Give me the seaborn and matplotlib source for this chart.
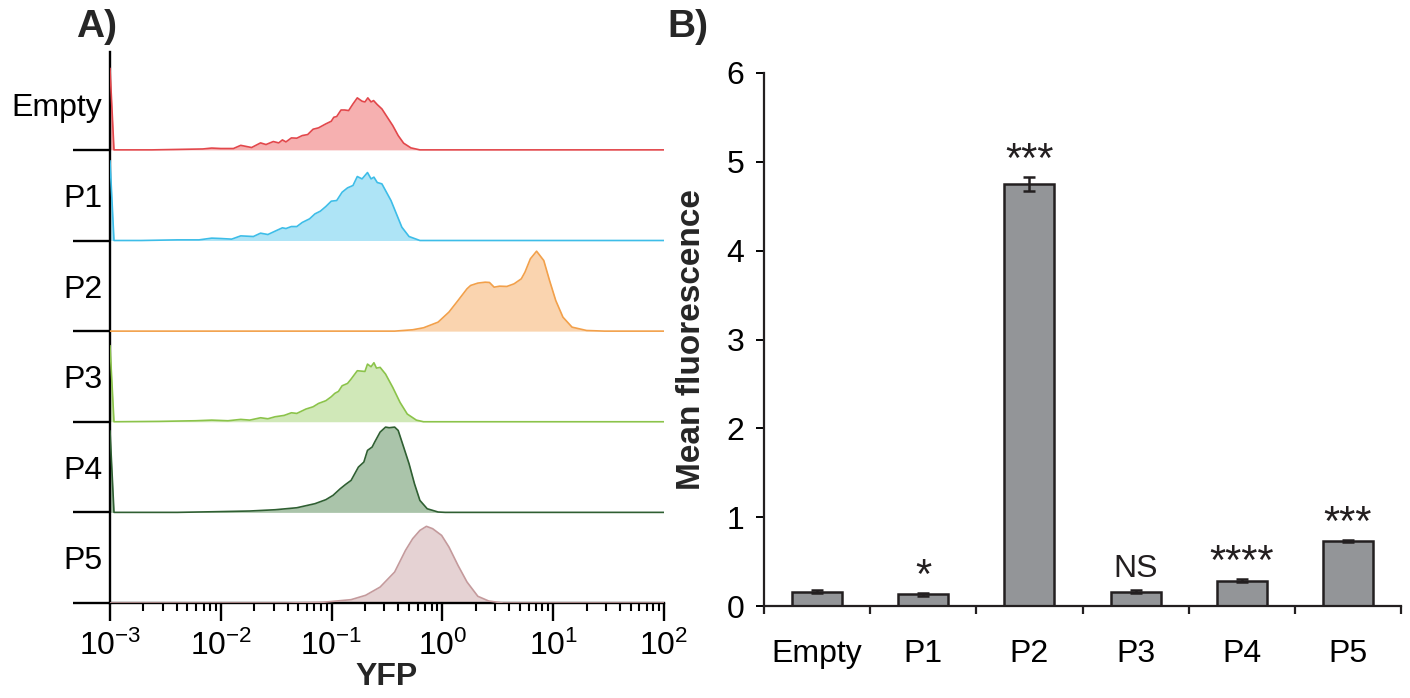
import numpy as np
import matplotlib
matplotlib.use("Agg")
import matplotlib.pyplot as plt
import matplotlib.transforms as mtrans
import seaborn as sns

# ---------------- Panel A: flow-cytometry histograms ----------------
samples = ["Empty", "P1", "P2", "P3", "P4", "P5"]

empty_log_yfp = [-3.0, -2.964, -2.784, -2.621, -2.392, -2.163, -2.082, -2.0, -1.886, -1.820,
                 -1.722, -1.641, -1.592, -1.526, -1.477, -1.444, -1.412, -1.363, -1.314, -1.265,
                 -1.216, -1.167, -1.118, -1.052, -1.003, -0.980, -0.954, -0.915, -0.882, -0.846,
                 -0.807, -0.768, -0.725, -0.699, -0.673, -0.644, -0.621, -0.588, -0.546, -0.497,
                 -0.448, -0.399, -0.350, -0.284, -0.203, 2.0]
empty_count = [90, 0, 0, 0, 0.5, 1, 2, 1.5, 1.5, 5,
               2.6, 7.7, 5.9, 9.2, 7.7, 11, 8.8, 13.2, 12.9, 15.8,
               16.9, 22.8, 24.3, 28.7, 31.6, 36, 36.8, 44, 44, 43.4,
               50.7, 57.4, 53.7, 52.9, 57.4, 52.9, 54.4, 50, 45.2, 36,
               26.8, 15.8, 7.4, 2.2, 0, 0]

p1_log_yfp = [-3.0, -2.964, -2.719, -2.392, -2.196, -2.082, -2.0, -1.902, -1.820, -1.706,
              -1.641, -1.575, -1.510, -1.444, -1.412, -1.363, -1.314, -1.265, -1.199, -1.150,
              -1.101, -1.052, -1.003, -0.954, -0.905, -0.856, -0.807, -0.768, -0.725, -0.676,
              -0.644, -0.618, -0.588, -0.546, -0.513, -0.464, -0.415, -0.366, -0.301, -0.203, 2.0]
p1_count = [88, 0, 0, 0.7, 0.7, 2.6, 2.2, 1.5, 5.1, 4.4,
            8.1, 6.6, 10.3, 14, 13.2, 15.4, 15.4, 19.9, 23.9, 29.4,
            32.4, 37.5, 43.4, 44.1, 53.3, 58.1, 60.7, 70.6, 68, 75,
            68, 69.9, 64, 62.5, 55.1, 44.1, 29.4, 14.7, 4.4, 0, 0]

p2_log_yfp = [-3.0, -0.431, -0.268, -0.170, -0.039, 0.059, 0.141, 0.222, 0.255, 0.320,
              0.386, 0.425, 0.467, 0.516, 0.582, 0.647, 0.712, 0.745, 0.794, 0.850,
              0.915, 0.967, 1.023, 1.088, 1.170, 1.301, 1.464, 2.0]
p2_count = [0, 0, 1.5, 3.7, 9.9, 21, 33.8, 46.7, 50.4, 53,
            54, 53.7, 48.5, 49.6, 49.3, 52.2, 57.7, 65, 79.8, 88.2,
            77.9, 55.9, 33.8, 15.4, 4.4, 0.7, 0, 0]

p3_log_yfp = [-3.0, -2.964, -2.556, -2.229, -2.082, -1.935, -1.820, -1.739, -1.641, -1.575,
              -1.510, -1.428, -1.363, -1.314, -1.232, -1.167, -1.118, -1.052, -1.003, -0.971,
              -0.938, -0.905, -0.856, -0.824, -0.768, -0.699, -0.676, -0.644, -0.618, -0.595,
              -0.562, -0.513, -0.448, -0.382, -0.317, -0.235, -0.170, 2.0]
p3_count = [84, 0, 0.4, 1.1, 1.8, 1.1, 2.6, 1.8, 4.4, 3.3,
            5.5, 7, 9.9, 9.2, 14, 16.5, 20.2, 23.2, 27.6, 31.3,
            33.5, 39.7, 42.3, 47.1, 56.3, 55.5, 63.6, 60.7, 65.1, 59.2,
            60, 52.6, 37.9, 21.3, 8.5, 1.8, 0, 0]

p4_log_yfp = [-3.0, -2.964, -2.392, -2.065, -1.739, -1.510, -1.314, -1.150, -1.052, -0.987,
              -0.922, -0.873, -0.824, -0.758, -0.709, -0.676, -0.634, -0.611, -0.562, -0.513,
              -0.480, -0.431, -0.399, -0.350, -0.301, -0.252, -0.203, -0.137, -0.039, 0.026, 2.0]
p4_count = [90, 0, 0, 0.7, 1.5, 2.9, 5.1, 9.6, 14, 18.8,
            26.1, 30.9, 35.3, 50, 55.5, 68.4, 72.1, 77.6, 88.6, 94.1,
            93.4, 94.1, 90.4, 72.1, 53.7, 31.6, 13.2, 4, 0.4, 0, 0]

p5_log_yfp = [-3.0, -1.412, -1.085, -0.824, -0.693, -0.562, -0.431, -0.333, -0.268, -0.203,
              -0.144, -0.088, -0.007, 0.059, 0.141, 0.222, 0.320, 0.418, 0.549, 2.0]
p5_count = [0, 0, 0.7, 3.7, 8.5, 17.6, 34.2, 58.1, 71, 80.1,
            84.6, 82, 74.6, 61.8, 41.5, 23.2, 7.4, 2.2, 0, 0]

x_exponents = [-3, -2, -1, 0, 1, 2]

# ---------------- Panel B: mean fluorescence ----------------
bar_labels = ["Empty", "P1", "P2", "P3", "P4", "P5"]
mean_fluor = [0.16, 0.13, 4.75, 0.16, 0.285, 0.73]
mean_err = [0.015, 0.012, 0.08, 0.015, 0.015, 0.015]
signif = ["", "*", "***", "NS", "****", "***"]
b_yticks = [0, 1, 2, 3, 4, 5, 6]

# ---------------- styling ----------------
line_colors = ["#E2474B", "#3DBDE8", "#F2A04A", "#8BC34A", "#2F5F32", "#C49A9C"]
fill_colors = ["#F6B0B0", "#AEE4F6", "#FAD4AF", "#D0E8B8", "#AAC4AA", "#E5D2D3"]

sns.set_style("ticks")
plt.rcParams["font.family"] = ["Liberation Sans", "DejaVu Sans"]
plt.rcParams["mathtext.default"] = "regular"
FS = 23

fig = plt.figure(figsize=(14.10, 6.98), dpi=100)
W, H = 1410.0, 698.0

# ---------- Panel A ----------
axA = fig.add_axes([110 / W, (H - 603) / H, 554 / W, 551 / H])
axA.set_xscale("log")
curves = [(empty_log_yfp, empty_count), (p1_log_yfp, p1_count), (p2_log_yfp, p2_count),
          (p3_log_yfp, p3_count), (p4_log_yfp, p4_count), (p5_log_yfp, p5_count)]
n = len(samples)
for i, (lx, cnt) in enumerate(curves):
    offset = n - 1 - i
    x = 10.0 ** np.array(lx)
    y = offset + np.array(cnt) / 100.0
    axA.fill_between(x, offset, y, color=fill_colors[i], lw=0, zorder=2)
    sns.lineplot(x=x, y=y, ax=axA, color=line_colors[i], lw=1.2, estimator=None,
                 sort=False, legend=False, zorder=3)

axA.set_xlim(1e-3, 1e2)
axA.set_ylim(0, 6.08)
axA.set_xticks([10.0 ** e for e in x_exponents])
axA.set_xticklabels(["10$^{%d}$" % e for e in x_exponents], fontsize=FS)
axA.set_yticks(range(n))
axA.set_yticklabels([])
for s in ["top", "right"]:
    axA.spines[s].set_visible(False)
for s in ["left", "bottom"]:
    axA.spines[s].set_linewidth(1.7)
    axA.spines[s].set_color("black")
axA.tick_params(axis="x", which="major", length=13, width=1.7, pad=7, colors="black")
axA.tick_params(axis="x", which="minor", length=6, width=1.5, colors="black")
axA.tick_params(axis="y", which="major", length=27, width=1.7, colors="black")
axA.set_xlabel("YFP", fontsize=23, fontweight="bold", labelpad=0)
axA.set_ylabel("")
trA = mtrans.blended_transform_factory(axA.transAxes, axA.transData)
for i, name in enumerate(samples):
    offset = n - 1 - i
    axA.text(-0.014, offset + 0.37, name, transform=trA, ha="right", va="baseline",
             fontsize=FS, color="black")

# ---------- Panel B ----------
axB = fig.add_axes([764 / W, (H - 606) / H, 637 / W, 533 / H])
sns.barplot(x=bar_labels, y=mean_fluor, ax=axB, color="#939598", saturation=1,
            edgecolor="#231F20", linewidth=1.8, width=0.47, errorbar=None, zorder=2)
pos = np.arange(len(bar_labels))
axB.errorbar(pos, mean_fluor, yerr=mean_err, fmt="none", ecolor="#231F20",
             elinewidth=1.8, capsize=4.5, capthick=1.8, zorder=3)
for i, s in enumerate(signif):
    if not s:
        continue
    stars = set(s) == {"*"}
    axB.text(pos[i], mean_fluor[i] + mean_err[i] + (0.06 if stars else 0.15), s,
             ha="center", va="baseline", fontsize=30 if stars else FS, color="#231F20")
axB.set_xlim(-0.5, len(bar_labels) - 0.5)
axB.set_ylim(0, 6)
axB.set_yticks(b_yticks)
axB.set_yticklabels([str(v) for v in b_yticks], fontsize=FS)
axB.set_xticks(pos)
axB.set_xticklabels(bar_labels, fontsize=FS)
axB.set_xticks(np.arange(-0.5, len(bar_labels), 1.0), minor=True)
axB.tick_params(axis="x", which="major", length=0, pad=24, colors="black")
axB.tick_params(axis="x", which="minor", length=6, width=1.6, colors="#231F20")
axB.tick_params(axis="y", which="major", length=6, width=1.4, pad=8, colors="black")
for s in ["top", "right"]:
    axB.spines[s].set_visible(False)
for s in ["left", "bottom"]:
    axB.spines[s].set_linewidth(1.6)
    axB.spines[s].set_color("#231F20")
axB.set_xlabel("")
axB.set_ylabel("Mean fluorescence", fontsize=24, fontweight="bold", labelpad=14)

# panel letters
fig.text(76 / W, 1 - 37 / H, "A)", fontsize=28, fontweight="bold", va="baseline")
fig.text(667 / W, 1 - 37 / H, "B)", fontsize=28, fontweight="bold", va="baseline")

fig.savefig("out.png", dpi=100)
